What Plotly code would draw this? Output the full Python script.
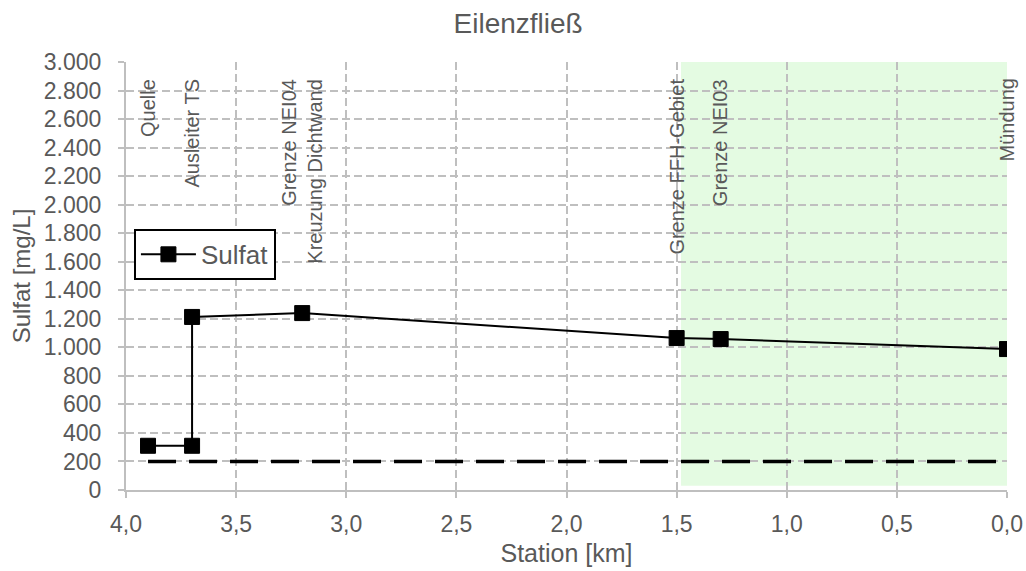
import plotly.graph_objects as go

# Data
station_km = [3.9, 3.7, 3.7, 3.2, 1.5, 1.3, 0.0]
sulfat_mg_l = [310, 310, 1213, 1240, 1065, 1058, 988]

threshold_x = [3.9, 0.0]
threshold_y = [200, 200]

label_texts = ["Quelle", "Ausleiter TS", "Grenze NEI04<br>Kreuzung Dichtwand",
               "Grenze FFH-Gebiet", "Grenze NEI03", "Mündung"]
label_x = [3.9, 3.7, 3.2, 1.5, 1.3, 0.0]

ffh_x = [1.48, 0.0]
ffh_y = [30, 3000]

x_ticks = [4.0, 3.5, 3.0, 2.5, 2.0, 1.5, 1.0, 0.5, 0.0]
y_ticks = list(range(0, 3001, 200))

FONT = "Liberation Sans, Arial, sans-serif"
GREY = "#595959"
GRID = "#BFBFBF"

fig = go.Figure()

fig.add_trace(go.Scatter(
    x=threshold_x, y=threshold_y, mode="lines",
    line=dict(color="black", width=3.5, dash="28px,13px"),
    showlegend=False, hoverinfo="skip"))

fig.add_trace(go.Scatter(
    x=station_km, y=sulfat_mg_l, mode="lines+markers", name="Sulfat",
    line=dict(color="black", width=2),
    marker=dict(symbol="square", size=15, color="black",
                line=dict(color="black", width=1))))

fig.add_shape(type="rect", xref="x", yref="y",
              x0=ffh_x[0], x1=ffh_x[1], y0=ffh_y[0], y1=ffh_y[1],
              fillcolor="#E4FBE2", line=dict(width=0), layer="below")

for t, x in zip(label_texts, label_x):
    fig.add_annotation(x=x, y=2895, xref="x", yref="y", text=t,
                       textangle=-90, showarrow=False, xanchor="center",
                       yanchor="top", align="right",
                       font=dict(family=FONT, size=20, color=GREY))

fig.update_layout(
    width=1026, height=571,
    paper_bgcolor="white", plot_bgcolor="white",
    separators=",.",
    margin=dict(l=126, r=19, t=62, b=81, autoexpand=False),
    title=dict(text="Eilenzfließ", x=0.505, xanchor="center",
               y=1 - 23 / 571, yanchor="middle",
               font=dict(family=FONT, size=28, color=GREY)),
    font=dict(family=FONT, size=23, color=GREY),
    legend=dict(x=0.009, y=0.61, xanchor="left", yanchor="top",
                bgcolor="white", bordercolor="black", borderwidth=2,
                font=dict(family=FONT, size=26, color=GREY),
                itemwidth=55),
)

fig.update_xaxes(
    range=[4.0, 0.0], tickvals=x_ticks, tickformat=".1f",
    showgrid=True, gridcolor=GRID, griddash="8px,4px", gridwidth=2,
    showline=True, linecolor=GRID, linewidth=2,
    ticks="outside", ticklen=6, tickcolor=GRID, tickwidth=1.5,
    zeroline=False, ticklabelstandoff=6,
    title=dict(text="Station [km]", font=dict(family=FONT, size=25, color=GREY), standoff=9),
    tickfont=dict(family=FONT, size=23, color=GREY))

fig.update_yaxes(
    range=[0, 3000], tickvals=y_ticks, tickformat=",d",
    showgrid=True, gridcolor=GRID, griddash="8px,4px", gridwidth=2,
    showline=True, linecolor=GRID, linewidth=2,
    ticks="outside", ticklen=6, tickcolor=GRID, tickwidth=1.5,
    zeroline=False, ticklabelstandoff=12,
    title=dict(text="Sulfat [mg/L]", font=dict(family=FONT, size=24, color=GREY), standoff=6),
    tickfont=dict(family=FONT, size=23, color=GREY))

fig.write_html("out.html", config={"displayModeBar": False},
               post_script="document.body.style.margin='0px';")
